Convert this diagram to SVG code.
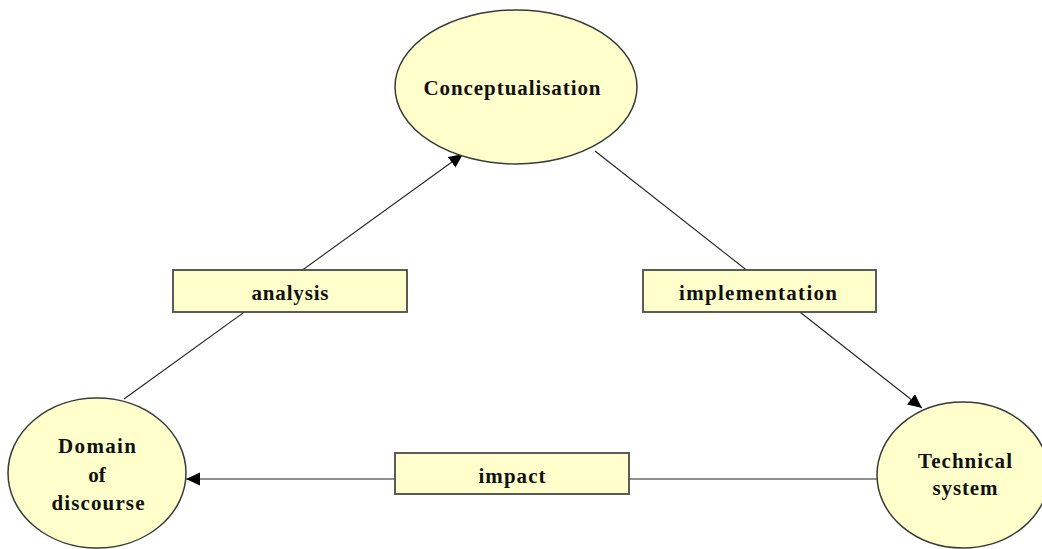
<svg xmlns="http://www.w3.org/2000/svg" width="1042" height="549" viewBox="0 0 1042 549">
  <style>
    .node { fill: #ffffcc; stroke: #3a3a3a; stroke-width: 1.5; }
    .label-box { fill: #ffffcc; stroke: #4a4a4a; stroke-width: 1.8; }
    .edge { fill: none; stroke: #222; stroke-width: 1.1; }
    text { font-family: "Liberation Serif", "Times New Roman", serif; font-weight: bold; font-size: 21px; fill: #111; text-anchor: middle; }
  </style>
  <defs>
    <marker id="arrow" markerUnits="userSpaceOnUse" markerWidth="16" markerHeight="14" refX="14" refY="6.5" orient="auto">
      <path d="M0,0 L14,6.5 L0,13 Z" fill="#000"/>
    </marker>
  </defs>

  <rect width="1042" height="549" fill="#ffffff"/>

  <g id="connectors">
    <line class="edge" x1="124" y1="399" x2="463" y2="154" marker-end="url(#arrow)"/>
    <line class="edge" x1="595" y1="151" x2="922" y2="408" marker-end="url(#arrow)"/>
    <line class="edge" x1="877" y1="479" x2="186" y2="479" marker-end="url(#arrow)"/>
  </g>

  <g id="label-analysis">
    <rect class="label-box" x="173" y="270" width="234" height="42"/>
    <text x="290" y="300" textLength="77" lengthAdjust="spacing">analysis</text>
  </g>
  <g id="label-implementation">
    <rect class="label-box" x="643" y="270" width="233" height="42"/>
    <text x="758" y="300" textLength="158" lengthAdjust="spacing">implementation</text>
  </g>
  <g id="label-impact">
    <rect class="label-box" x="395" y="453" width="234" height="41"/>
    <text x="512" y="483" textLength="67" lengthAdjust="spacing">impact</text>
  </g>

  <g id="node-conceptualisation">
    <ellipse class="node" cx="516" cy="87" rx="121" ry="77"/>
    <text x="512" y="95" textLength="177" lengthAdjust="spacing">Conceptualisation</text>
  </g>
  <g id="node-domain">
    <ellipse class="node" cx="97" cy="473" rx="89" ry="75"/>
    <text x="97" y="453" textLength="78" lengthAdjust="spacing">Domain</text>
    <text x="97" y="482">of</text>
    <text x="98" y="510" textLength="93" lengthAdjust="spacing">discourse</text>
  </g>
  <g id="node-technical">
    <ellipse class="node" cx="963" cy="475" rx="86" ry="73"/>
    <text x="965" y="468" textLength="94" lengthAdjust="spacing">Technical</text>
    <text x="965" y="495" textLength="65" lengthAdjust="spacing">system</text>
  </g>
</svg>
